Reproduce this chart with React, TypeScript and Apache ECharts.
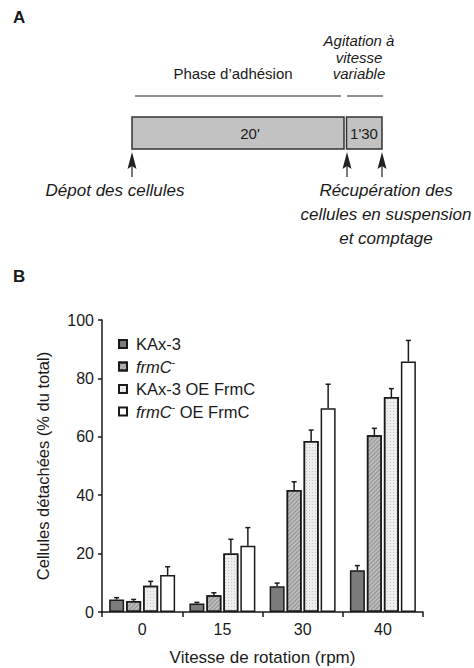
import React, { useEffect, useRef } from "react";
import * as echarts from "echarts";

const categories = ["0", "15", "30", "40"];
const seriesNames = ["KAx-3", "frmC-", "KAx-3 OE FrmC", "frmC- OE FrmC"];
const kax3 = [4.3, 2.9, 8.8, 14.3];
const kax3Err = [0.6, 0.4, 1.1, 1.6];
const frmC = [3.8, 5.7, 41.8, 60.5];
const frmCErr = [0.5, 0.9, 2.8, 2.4];
const kax3OE = [9.0, 20.0, 58.6, 73.6];
const kax3OEErr = [1.5, 4.9, 3.7, 2.9];
const frmCOE = [12.7, 22.7, 69.8, 85.8];
const frmCOEErr = [2.8, 6.2, 8.2, 7.2];
const yTicks = [0, 20, 40, 60, 80, 100];

const FONT = '"Liberation Sans", Arial, sans-serif';

export default function App() {
  const ref = useRef<HTMLDivElement>(null);
  useEffect(() => {
    document.body.style.margin = "0";
    if (!ref.current) return;
    const chart = echarts.init(ref.current, null, { renderer: "svg" });
    const values = [kax3, frmC, kax3OE, frmCOE];
    const errs = [kax3Err, frmCErr, kax3OEErr, frmCOEErr];
    const fills = ["#7b7b7b", "#bcbcbc", "#eeeeee", "#ffffff"];
    const decals: any[] = [
      null,
      {
        symbol: "rect",
        symbolSize: 1,
        dashArrayX: [1, 0],
        dashArrayY: [1, 1.3],
        rotation: -Math.PI / 4,
        color: "rgba(90,90,90,0.45)",
      },
      {
        symbol: "rect",
        symbolSize: 1,
        dashArrayX: [1, 1.2],
        dashArrayY: [1, 1.2],
        color: "rgba(150,150,150,0.45)",
      },
      null,
    ];
    const barW = 15;
    const gap = 2;
    const offsets = [-1.5, -0.5, 0.5, 1.5].map((k) => k * (barW + gap));

    const barSeries = values.map((v, i) => {
      const itemStyle: any = {
        color: fills[i],
        borderColor: "#1a1a1a",
        borderWidth: 1.5,
      };
      if (decals[i]) itemStyle.decal = decals[i];
      return {
        name: seriesNames[i],
        type: "bar",
        data: v,
        barWidth: barW,
        barGap: ((gap / barW) * 100).toFixed(1) + "%",
        itemStyle,
        z: 2,
      };
    });

    const errSeries = values.map((v, i) => ({
      name: "err" + i,
      type: "custom",
      z: 3,
      data: v.map((val, j) => [j, val, val + errs[i][j]]),
      renderItem: (params: any, api: any) => {
        const x = api.value(0);
        const lo = api.coord([x, api.value(1)]);
        const hi = api.coord([x, api.value(2)]);
        const cx = lo[0] + offsets[i];
        const st = { stroke: "#1a1a1a", lineWidth: 1.5 };
        return {
          type: "group",
          children: [
            { type: "line", shape: { x1: cx, y1: lo[1], x2: cx, y2: hi[1] }, style: st },
            { type: "line", shape: { x1: cx - 2.5, y1: hi[1], x2: cx + 2.5, y2: hi[1] }, style: st },
          ],
        };
      },
    }));

    const arrow = (x: number) => [
      {
        type: "line",
        shape: { x1: x, y1: 177, x2: x, y2: 164 },
        style: { stroke: "#222", lineWidth: 1.2 },
      },
      {
        type: "polygon",
        shape: { points: [[x - 4.5, 169], [x, 152], [x + 4.5, 169], [x, 166]] },
        style: { fill: "#222" },
      },
    ];

    const txt = (text: string, x: number, y: number, extra: any = {}) => ({
      type: "text",
      x,
      y,
      style: {
        text,
        fill: "#1a1a1a",
        fontFamily: FONT,
        fontSize: 15,
        align: "center",
        verticalAlign: "middle",
        ...extra,
      },
    });

    const graphics: any[] = [
      txt("A", 13, 17, { align: "left", fontWeight: "bold", fontSize: 17 }),
      txt("B", 13, 276, { align: "left", fontWeight: "bold", fontSize: 17 }),
      txt("Phase d\u2019adhésion", 233, 73, { fontSize: 15 }),
      txt("Agitation à\nvitesse\nvariable", 359, 57, { fontSize: 15, fontStyle: "italic", lineHeight: 16.5 }),
      { type: "line", shape: { x1: 135, y1: 96, x2: 341, y2: 96 }, style: { stroke: "#222", lineWidth: 1.2 } },
      { type: "line", shape: { x1: 347, y1: 96, x2: 383, y2: 96 }, style: { stroke: "#222", lineWidth: 1.2 } },
      {
        type: "rect",
        shape: { x: 132, y: 117, width: 212, height: 32 },
        style: { fill: "#c2c2c2", stroke: "#333", lineWidth: 1.5 },
      },
      {
        type: "rect",
        shape: { x: 346.5, y: 117, width: 35.5, height: 32 },
        style: { fill: "#c2c2c2", stroke: "#333", lineWidth: 1.5 },
      },
      txt("20'", 250, 133, { fontSize: 15 }),
      txt("1'30", 364, 133, { fontSize: 15 }),
      ...arrow(132),
      ...arrow(347),
      ...arrow(382),
      txt("Dépot des cellules", 115, 190, { fontSize: 17, fontStyle: "italic" }),
      txt("Récupération des\ncellules en suspension\net comptage", 386, 214, {
        fontSize: 17,
        fontStyle: "italic",
        lineHeight: 24,
      }),
    ];

    const legendFormatter = (name: string) => {
      if (name === "frmC-") return "{i|frmC}{s|-}";
      if (name === "frmC- OE FrmC") return "{i|frmC}{s|-} OE FrmC";
      return name;
    };

    chart.setOption({
      animation: false,
      textStyle: { fontFamily: FONT },
      grid: { left: 102, right: 51, top: 320, bottom: 56 },
      legend: {
        data: seriesNames,
        orient: "vertical",
        left: 118,
        top: 334.5,
        padding: 0,
        itemWidth: 8,
        itemHeight: 8,
        itemGap: 3.5,
        icon: "rect",
        formatter: legendFormatter,
        textStyle: {
          fontFamily: FONT,
          fontSize: 16.5,
          color: "#1a1a1a",
          lineHeight: 19,
          padding: [0, 0, 0, 4],
          rich: {
            i: { fontFamily: FONT, fontSize: 16.5, fontStyle: "italic", color: "#1a1a1a" },
            s: { fontFamily: FONT, fontSize: 10, verticalAlign: "top", lineHeight: 10, color: "#1a1a1a" },
          },
        },
      },
      xAxis: {
        type: "category",
        data: categories,
        boundaryGap: true,
        name: "Vitesse de rotation (rpm)",
        nameLocation: "middle",
        nameGap: 37,
        nameTextStyle: { fontFamily: FONT, fontSize: 17, color: "#1a1a1a" },
        axisLine: { lineStyle: { color: "#1a1a1a", width: 1.5 } },
        axisTick: { show: true, interval: 0, length: 5, lineStyle: { color: "#1a1a1a", width: 1.5 } },
        axisLabel: { fontFamily: FONT, fontSize: 16, color: "#1a1a1a", margin: 9 },
        splitLine: { show: false },
      },
      yAxis: {
        type: "value",
        min: yTicks[0],
        max: yTicks[yTicks.length - 1],
        interval: 20,
        name: "Cellules détachées (% du total)",
        nameLocation: "middle",
        nameGap: 51,
        nameTextStyle: { fontFamily: FONT, fontSize: 16.5, color: "#1a1a1a" },
        axisLine: { show: true, lineStyle: { color: "#1a1a1a", width: 1.5 } },
        axisTick: { show: true, length: 4, lineStyle: { color: "#1a1a1a", width: 1.5 } },
        axisLabel: { fontFamily: FONT, fontSize: 16, color: "#1a1a1a", margin: 8 },
        splitLine: { show: false },
      },
      series: [...barSeries, ...errSeries],
      graphic: graphics,
    });
    return () => chart.dispose();
  }, []);
  return <div ref={ref} style={{ width: 474, height: 668 }} />;
}
